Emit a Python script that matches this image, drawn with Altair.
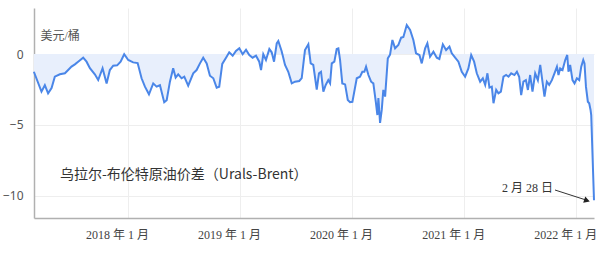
import altair as alt
import pandas as pd

# Decimal-year time stamps and Urals-Brent spread (USD/bbl)
years = [
    2017.161, 2017.229, 2017.259, 2017.288, 2017.319, 2017.348, 2017.393, 2017.438, 2017.467, 2017.497,
    2017.527, 2017.556, 2017.601, 2017.631, 2017.661, 2017.705, 2017.735, 2017.774, 2017.810, 2017.839,
    2017.869, 2017.904, 2017.935, 2017.967, 2018.003, 2018.047, 2018.087, 2018.122, 2018.152, 2018.188,
    2018.226, 2018.256, 2018.286, 2018.324, 2018.346, 2018.375, 2018.404, 2018.426, 2018.449, 2018.479,
    2018.503, 2018.538, 2018.583, 2018.613, 2018.643, 2018.672, 2018.703, 2018.732, 2018.762, 2018.792,
    2018.815, 2018.842, 2018.881, 2018.904, 2018.935, 2018.964, 2018.994, 2019.024, 2019.054, 2019.083,
    2019.113, 2019.143, 2019.172, 2019.188, 2019.208, 2019.232, 2019.262, 2019.283, 2019.304, 2019.328,
    2019.342, 2019.372, 2019.402, 2019.431, 2019.462, 2019.491, 2019.529, 2019.551, 2019.580, 2019.610,
    2019.631, 2019.654, 2019.685, 2019.705, 2019.723, 2019.744, 2019.765, 2019.788, 2019.804, 2019.819,
    2019.842, 2019.863, 2019.878, 2019.893, 2019.913, 2019.938, 2019.962, 2019.982, 2020.003, 2020.042,
    2020.071, 2020.092, 2020.110, 2020.125, 2020.146, 2020.170, 2020.190, 2020.212, 2020.226, 2020.235,
    2020.250, 2020.265, 2020.279, 2020.295, 2020.319, 2020.339, 2020.360, 2020.384, 2020.413, 2020.438,
    2020.458, 2020.488, 2020.518, 2020.547, 2020.571, 2020.601, 2020.622, 2020.652, 2020.672, 2020.696,
    2020.726, 2020.756, 2020.779, 2020.810, 2020.839, 2020.869, 2020.890, 2020.920, 2020.949, 2020.979,
    2021.009, 2021.038, 2021.063, 2021.089, 2021.113, 2021.143, 2021.167, 2021.188, 2021.208, 2021.226,
    2021.247, 2021.262, 2021.286, 2021.306, 2021.328, 2021.351, 2021.375, 2021.396, 2021.420, 2021.449,
    2021.471, 2021.491, 2021.509, 2021.529, 2021.551, 2021.569, 2021.589, 2021.610, 2021.634, 2021.658,
    2021.679, 2021.699, 2021.717, 2021.738, 2021.759, 2021.783, 2021.806, 2021.828, 2021.842, 2021.857,
    2021.878, 2021.902, 2021.920, 2021.931, 2021.946, 2021.967, 2021.985, 2022.006, 2022.027, 2022.045,
    2022.063, 2022.074, 2022.087, 2022.104, 2022.116, 2022.128, 2022.134, 2022.159,
]
spread = [
    -1.25, -2.65, -2.20, -2.77, -2.40, -1.60, -1.43, -1.36, -1.13, -0.89,
    -0.73, -0.54, -0.26, -0.54, -1.00, -1.43, -1.83, -1.00, -2.07, -1.13,
    -0.82, -0.80, -0.54, -0.02, -0.42, -0.59, -0.64, -1.71, -2.30, -2.84,
    -2.07, -2.30, -2.20, -3.40, -3.25, -1.95, -1.00, -1.66, -1.43, -1.71,
    -1.60, -2.23, -1.36, -1.13, -0.66, -0.26, -0.66, -1.53, -1.71, -2.37,
    -2.30, -0.70, -0.19, 0.12, -0.12, 0.21, 0.40, -0.02, 0.30, -0.07,
    -0.26, -0.12, -0.54, -1.13, -0.02, -0.42, 0.35, 0.12, -0.54, 0.75,
    0.92, 0.19, -0.77, -1.25, -2.07, -1.95, -1.90, -1.70, 0.28, 0.68,
    -0.66, -0.77, -2.50, -1.36, -1.25, -2.65, -2.18, -1.84, -2.07, -0.66,
    -0.54, 0.35, 0.40, -0.42, -2.07, -2.14, -3.24, -3.40, -3.37, -1.71,
    -1.60, -1.25, -1.25, -0.89, -1.48, -1.95, -2.07, -3.37, -4.30, -3.10,
    -4.85, -3.94, -2.53, -3.00, -0.31, -0.05, 0.99, 0.40, 0.63, 1.15,
    1.20, 2.04, 1.69, 0.99, 0.05, -0.07, -0.66, 0.40, 0.75, -0.19,
    0.16, -0.26, -0.35, 0.68, 0.28, 0.52, 0.05, -0.26, -0.54, -1.25,
    -1.60, -1.01, -0.07, -0.54, -1.36, -1.95, -1.71, -2.18, -1.36, -2.37,
    -2.30, -3.47, -2.53, -2.77, -2.65, -1.60, -1.48, -1.60, -1.36, -1.48,
    -1.25, -1.60, -2.89, -1.95, -1.84, -2.53, -1.48, -2.65, -1.36, -1.84,
    -0.77, -1.95, -3.00, -1.95, -2.18, -1.84, -1.36, -0.89, -1.48, -1.01,
    -1.13, -0.42, -0.07, -1.25, -0.77, -1.84, -2.07, -1.71, -1.84, -0.89,
    -0.42, -0.66, -2.30, -3.36, -3.47, -3.94, -4.30, -10.30,
]
tick_years = [2018, 2019, 2020, 2021, 2022]
y_ticks = [0, -5, -10]
title_text = "乌拉尔-布伦特原油价差（Urals-Brent）"
unit_text = "美元/桶"
note_text = "2 月 28 日"

base_date = pd.Timestamp("2018-01-01")
dates = [base_date + pd.to_timedelta((y - 2018) * 365.25, unit="D") for y in years]
dates[-1] = pd.Timestamp("2022-02-28")
df = pd.DataFrame({"date": dates, "value": spread})

x_scale = alt.Scale(domain=[alt.DateTime(year=2017, month=3, date=1),
                            alt.DateTime(year=2022, month=2, date=28)])
y_scale = alt.Scale(domain=[-11.55, 3.24], nice=False, zero=False)

serif = "Liberation Serif, Noto Sans CJK SC"

x_axis = alt.Axis(
    values=[alt.DateTime(year=y, month=1, date=1) for y in tick_years],
    labelExpr="year(datum.value) + ' 年 1 月'",
    title=None, ticks=False, tickSize=0, labelPadding=11, labelOffset=-11,
    labelFont=serif, labelFontSize=12, labelColor="#444",
    domainColor="#b0b0b0", domainWidth=1.5, gridColor="#eeeeee", gridWidth=1,
    labelFlush=False,
)
y_axis = alt.Axis(
    values=y_ticks, title=unit_text, titleAngle=0, titleX=6, titleY=27,
    titleAlign="left", titleBaseline="middle",
    titleFont=serif, titleFontSize=12,
    titleFontWeight="normal", titleColor="#555",
    ticks=False, tickSize=0, labelPadding=11,
    labelFont="Noto Sans", labelFontSize=12, labelColor="#555",
    domainColor="#b0b0b0", domainWidth=1.5, gridColor="#eeeeee", gridWidth=1,
)

base = alt.Chart(df)
area = base.mark_area(color="#e8effc", opacity=1).encode(
    x=alt.X("date:T", scale=x_scale, axis=x_axis),
    y=alt.Y("value:Q", scale=y_scale, axis=y_axis),
    y2=alt.datum(0),
)
line = base.mark_line(color="#4a86e8", strokeWidth=2).encode(
    x="date:T", y="value:Q",
)

title = alt.Chart(pd.DataFrame({"t": [title_text]})).mark_text(
    align="left", baseline="middle", fontSize=14, color="#333",
    font="Noto Sans CJK SC",
).encode(text="t:N", x=alt.value(26), y=alt.value(167))

note = alt.Chart(pd.DataFrame({"t": [note_text]})).mark_text(
    align="right", baseline="middle", fontSize=12, color="#333",
    font=serif,
).encode(text="t:N", x=alt.value(519), y=alt.value(180))

arrow_line = alt.Chart(pd.DataFrame({"a": [0]})).mark_rule(
    color="#333", strokeWidth=1,
).encode(x=alt.value(521), y=alt.value(182), x2=alt.value(552), y2=alt.value(192))

arrow_head = alt.Chart(pd.DataFrame({"a": [0]})).mark_point(
    shape="triangle-right", filled=True, color="#222", size=45, angle=18, opacity=1,
).encode(x=alt.value(553), y=alt.value(192.5))

chart = alt.layer(area, line, title, note, arrow_line, arrow_head).properties(
    width=560, height=210,
    padding={"left": 34, "top": 8, "right": 12, "bottom": 37},
    autosize=alt.AutoSizeParams(type="none"),
).configure_view(stroke=None).configure_axis(labelOverlap=False)

chart.save("out.html", embed_options={"renderer": "svg", "actions": False})
